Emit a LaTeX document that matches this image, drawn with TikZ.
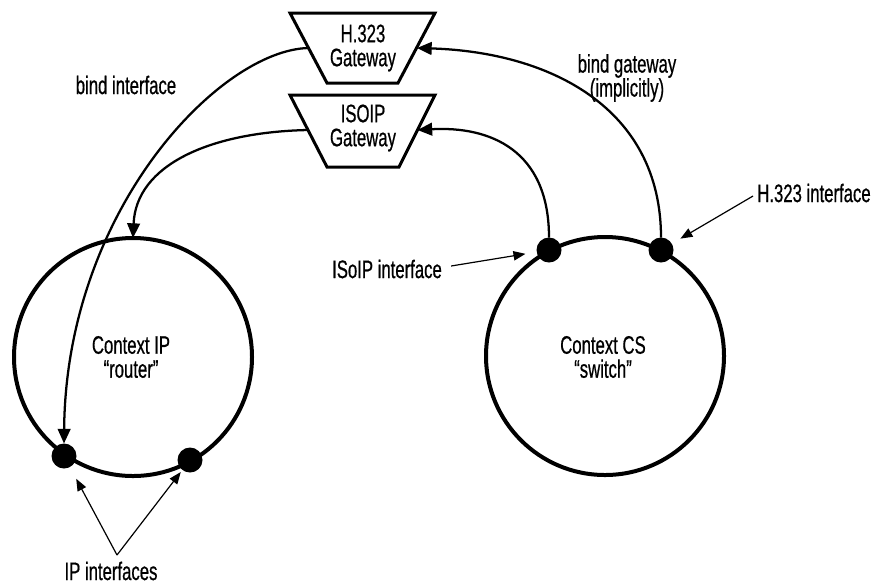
\documentclass[tikz,border=0pt]{standalone}
\usepackage{fontspec}
\setmainfont{Liberation Sans}[FakeStretch=0.66,FakeBold=0.6]
\usetikzlibrary{arrows.meta}
\begin{document}
\begin{tikzpicture}[x=0.75pt,y=-0.75pt,
  every node/.style={font=\fontsize{19}{18}\selectfont, align=center, inner sep=0pt},
  ctx/.style={circle, draw, line width=3pt, minimum size=178.5pt, outer sep=0pt},
  iface/.style={circle, fill, minimum size=18.75pt, outer sep=0pt},
  gw/.style={draw, line width=2.25pt, line join=miter},
  bind/.style={line width=1.7pt, -{Triangle[length=11pt,width=9.5pt]}},
  pointer/.style={line width=0.9pt, -{Triangle[length=9pt,width=7pt]}},
]
\useasboundingbox (0,0) rectangle (874,587);

% gateways
\draw[gw] (290,13) -- (435,13) -- (398,83) -- (327,83) -- cycle;
\node (h323gw) at (363,48) {H.323\\Gateway};
\coordinate (h323w) at (308.5,48);
\coordinate (h323e) at (417,48);

\draw[gw] (290,95) -- (435,95) -- (399,167) -- (327,167) -- cycle;
\node (isoipgw) at (363,128) {ISOIP\\Gateway};
\coordinate (isoipw) at (308,130);
\coordinate (isoipe) at (417.5,130);

% contexts
\node[ctx] (ip) at (133,357) {};
\node (iplabel) at (131,357) {Context IP\\“router”};
\node[ctx] (cs) at (605,356) {};
\node (cslabel) at (603,357) {Context CS\\“switch”};

% interfaces
\node[iface] (ipif1) at (64,456) {};
\node[iface] (ipif2) at (190,460) {};
\node[iface] (isoipif) at (549,250) {};
\node[iface] (h323if) at (661,250) {};

% bindings
\draw[bind] (h323w) .. controls (220,50) and (66,210) .. (ipif1.north);
\draw[bind] (isoipw) .. controls (210,132) and (136,165) .. (ip.north);
\draw[bind] (isoipif.north) .. controls (549,150) and (490,126) .. (isoipe);
\draw[bind] (h323if.north) .. controls (661,108) and (550,52) .. (h323e);

% labels
\node (bindif) at (126,85) {bind interface};
\node (bindgw) at (627,78) {bind gateway\\(implicitly)};
\node (h323lbl) at (814,193) {H.323 interface};
\node (isoiplbl) at (387,269) {ISoIP interface};
\node[anchor=base] (iplbl) at (111,580) {IP interfaces};
\coordinate (ipfork) at (117,555);

% pointers
\draw[pointer, shorten >=7.5pt] (h323lbl.west) ++(-4,3) -- (h323if);
\draw[pointer, shorten >=8.5pt] (isoiplbl.east) ++(9,-3) -- (isoipif);
\draw[pointer, shorten >=10pt] (ipfork) -- (ipif1);
\draw[pointer, shorten >=2pt] (ipfork) -- (ipif2);
\end{tikzpicture}
\end{document}
